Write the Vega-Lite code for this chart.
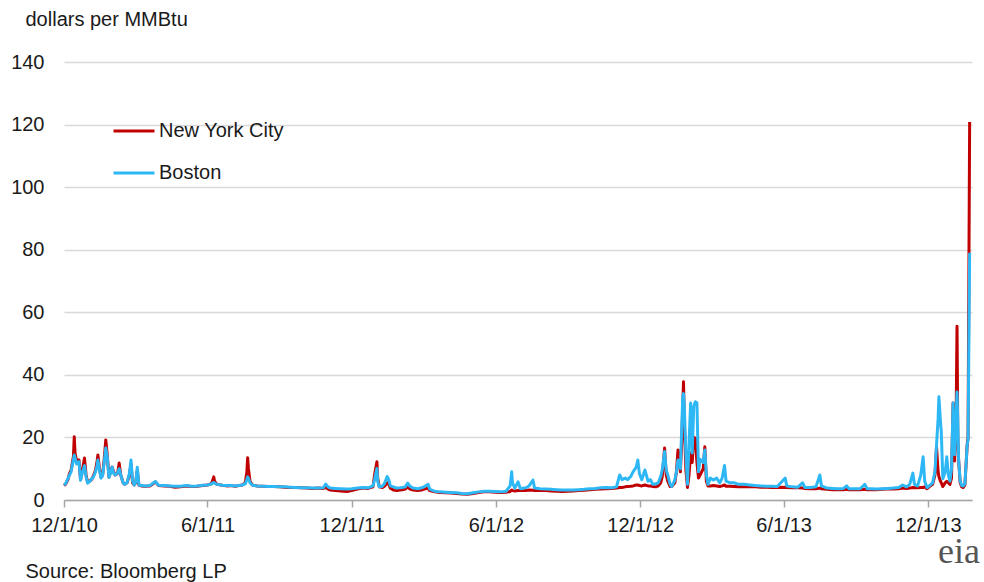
{
  "$schema": "https://vega.github.io/schema/vega-lite/v6.json",
  "width": 908,
  "height": 438,
  "autosize": {"type": "none"},
  "padding": {"left": 64, "top": 62, "right": 12, "bottom": 82},
  "background": "white",
  "config": {"view": {"stroke": null}, "font": "Liberation Sans"},
  "title": {"text": "eia", "orient": "bottom", "anchor": "end", "frame": "group", "font": "Liberation Serif", "fontSize": 36, "fontWeight": "normal", "color": "#555555", "baseline": "alphabetic", "offset": 0, "dx": 8, "dy": -18},
  "data": {"values": [
    {"date":"2010-12-01","New York City":4.6,"Boston":4.8},
    {"date":"2010-12-03","New York City":5.0,"Boston":5.2},
    {"date":"2010-12-06","New York City":6.5,"Boston":6.8},
    {"date":"2010-12-08","New York City":8.5,"Boston":8.0},
    {"date":"2010-12-10","New York City":9.5,"Boston":9.0},
    {"date":"2010-12-13","New York City":14.0,"Boston":13.0},
    {"date":"2010-12-14","New York City":20.2,"Boston":14.4},
    {"date":"2010-12-15","New York City":15.0,"Boston":13.5},
    {"date":"2010-12-17","New York City":12.5,"Boston":11.5},
    {"date":"2010-12-20","New York City":12.8,"Boston":12.3},
    {"date":"2010-12-22","New York City":6.5,"Boston":6.3},
    {"date":"2010-12-24","New York City":9.0,"Boston":8.5},
    {"date":"2010-12-27","New York City":13.4,"Boston":11.0},
    {"date":"2010-12-29","New York City":8.0,"Boston":7.5},
    {"date":"2010-12-31","New York City":5.6,"Boston":5.4},
    {"date":"2011-01-03","New York City":6.2,"Boston":6.0},
    {"date":"2011-01-05","New York City":6.5,"Boston":6.8},
    {"date":"2011-01-07","New York City":7.5,"Boston":7.2},
    {"date":"2011-01-10","New York City":9.5,"Boston":9.0},
    {"date":"2011-01-12","New York City":12.5,"Boston":11.0},
    {"date":"2011-01-13","New York City":14.4,"Boston":12.8},
    {"date":"2011-01-15","New York City":10.0,"Boston":9.5},
    {"date":"2011-01-17","New York City":7.3,"Boston":7.0},
    {"date":"2011-01-19","New York City":8.0,"Boston":7.8},
    {"date":"2011-01-21","New York City":13.0,"Boston":12.0},
    {"date":"2011-01-23","New York City":19.2,"Boston":16.6},
    {"date":"2011-01-25","New York City":14.0,"Boston":13.5},
    {"date":"2011-01-27","New York City":7.3,"Boston":7.2},
    {"date":"2011-01-29","New York City":9.0,"Boston":8.5},
    {"date":"2011-01-31","New York City":10.5,"Boston":10.5},
    {"date":"2011-02-02","New York City":9.0,"Boston":8.5},
    {"date":"2011-02-04","New York City":8.0,"Boston":8.0},
    {"date":"2011-02-07","New York City":8.5,"Boston":8.6},
    {"date":"2011-02-09","New York City":11.8,"Boston":10.0},
    {"date":"2011-02-11","New York City":8.0,"Boston":8.0},
    {"date":"2011-02-14","New York City":5.5,"Boston":5.5},
    {"date":"2011-02-16","New York City":5.0,"Boston":5.0},
    {"date":"2011-02-19","New York City":5.5,"Boston":5.5},
    {"date":"2011-02-22","New York City":8.0,"Boston":8.5},
    {"date":"2011-02-24","New York City":11.5,"Boston":12.8},
    {"date":"2011-02-26","New York City":5.5,"Boston":6.0},
    {"date":"2011-02-28","New York City":4.8,"Boston":4.8},
    {"date":"2011-03-02","New York City":5.5,"Boston":5.8},
    {"date":"2011-03-04","New York City":9.5,"Boston":10.5},
    {"date":"2011-03-06","New York City":4.8,"Boston":4.8},
    {"date":"2011-03-09","New York City":4.5,"Boston":4.6},
    {"date":"2011-03-14","New York City":4.4,"Boston":4.5},
    {"date":"2011-03-20","New York City":4.5,"Boston":4.6},
    {"date":"2011-03-24","New York City":5.2,"Boston":5.4},
    {"date":"2011-03-27","New York City":5.8,"Boston":5.9},
    {"date":"2011-03-31","New York City":4.6,"Boston":4.7},
    {"date":"2011-04-07","New York City":4.5,"Boston":4.6},
    {"date":"2011-04-14","New York City":4.4,"Boston":4.5},
    {"date":"2011-04-21","New York City":4.1,"Boston":4.4},
    {"date":"2011-04-28","New York City":4.2,"Boston":4.4},
    {"date":"2011-05-05","New York City":4.5,"Boston":4.6},
    {"date":"2011-05-12","New York City":4.3,"Boston":4.4},
    {"date":"2011-05-19","New York City":4.4,"Boston":4.5},
    {"date":"2011-05-26","New York City":4.6,"Boston":4.7},
    {"date":"2011-06-01","New York City":4.8,"Boston":4.8},
    {"date":"2011-06-06","New York City":5.2,"Boston":5.1},
    {"date":"2011-06-08","New York City":6.5,"Boston":5.5},
    {"date":"2011-06-09","New York City":7.4,"Boston":5.6},
    {"date":"2011-06-10","New York City":6.0,"Boston":5.4},
    {"date":"2011-06-13","New York City":5.0,"Boston":5.0},
    {"date":"2011-06-20","New York City":4.7,"Boston":4.7},
    {"date":"2011-06-27","New York City":4.5,"Boston":4.6},
    {"date":"2011-07-01","New York City":4.6,"Boston":4.6},
    {"date":"2011-07-06","New York City":4.4,"Boston":4.5},
    {"date":"2011-07-11","New York City":4.6,"Boston":4.6},
    {"date":"2011-07-15","New York City":4.8,"Boston":4.8},
    {"date":"2011-07-19","New York City":5.5,"Boston":5.2},
    {"date":"2011-07-21","New York City":9.0,"Boston":6.5},
    {"date":"2011-07-22","New York City":13.5,"Boston":7.4},
    {"date":"2011-07-23","New York City":10.0,"Boston":7.0},
    {"date":"2011-07-25","New York City":6.0,"Boston":5.5},
    {"date":"2011-07-28","New York City":4.8,"Boston":4.7},
    {"date":"2011-08-03","New York City":4.5,"Boston":4.5},
    {"date":"2011-08-10","New York City":4.4,"Boston":4.4},
    {"date":"2011-08-17","New York City":4.3,"Boston":4.3},
    {"date":"2011-08-24","New York City":4.3,"Boston":4.3},
    {"date":"2011-08-31","New York City":4.2,"Boston":4.2},
    {"date":"2011-09-07","New York City":4.1,"Boston":4.2},
    {"date":"2011-09-14","New York City":4.0,"Boston":4.1},
    {"date":"2011-09-21","New York City":4.0,"Boston":4.0},
    {"date":"2011-09-28","New York City":3.9,"Boston":3.9},
    {"date":"2011-10-05","New York City":3.8,"Boston":3.9},
    {"date":"2011-10-12","New York City":3.7,"Boston":3.8},
    {"date":"2011-10-19","New York City":3.8,"Boston":3.8},
    {"date":"2011-10-26","New York City":3.7,"Boston":3.9},
    {"date":"2011-10-29","New York City":4.0,"Boston":5.1},
    {"date":"2011-11-01","New York City":3.5,"Boston":4.2},
    {"date":"2011-11-04","New York City":3.2,"Boston":3.8},
    {"date":"2011-11-10","New York City":3.0,"Boston":3.7},
    {"date":"2011-11-17","New York City":2.9,"Boston":3.6},
    {"date":"2011-11-25","New York City":2.7,"Boston":3.5},
    {"date":"2011-12-01","New York City":3.0,"Boston":3.6},
    {"date":"2011-12-08","New York City":3.5,"Boston":3.8},
    {"date":"2011-12-15","New York City":3.8,"Boston":4.0},
    {"date":"2011-12-22","New York City":3.7,"Boston":3.9},
    {"date":"2011-12-28","New York City":4.2,"Boston":4.5},
    {"date":"2011-12-30","New York City":8.0,"Boston":6.5},
    {"date":"2012-01-02","New York City":12.2,"Boston":10.1},
    {"date":"2012-01-03","New York City":7.0,"Boston":6.0},
    {"date":"2012-01-05","New York City":4.2,"Boston":4.2},
    {"date":"2012-01-09","New York City":4.0,"Boston":4.4},
    {"date":"2012-01-12","New York City":4.5,"Boston":5.5},
    {"date":"2012-01-15","New York City":5.5,"Boston":7.5},
    {"date":"2012-01-17","New York City":5.0,"Boston":6.5},
    {"date":"2012-01-19","New York City":3.8,"Boston":4.5},
    {"date":"2012-01-23","New York City":3.2,"Boston":4.2},
    {"date":"2012-01-27","New York City":3.0,"Boston":3.8},
    {"date":"2012-01-31","New York City":3.2,"Boston":3.9},
    {"date":"2012-02-03","New York City":3.3,"Boston":4.0},
    {"date":"2012-02-07","New York City":3.5,"Boston":4.2},
    {"date":"2012-02-10","New York City":4.2,"Boston":5.4},
    {"date":"2012-02-13","New York City":3.5,"Boston":4.4},
    {"date":"2012-02-17","New York City":3.2,"Boston":3.8},
    {"date":"2012-02-23","New York City":3.0,"Boston":3.6},
    {"date":"2012-02-29","New York City":3.3,"Boston":4.0},
    {"date":"2012-03-07","New York City":3.8,"Boston":5.0},
    {"date":"2012-03-09","New York City":3.0,"Boston":3.5},
    {"date":"2012-03-15","New York City":2.6,"Boston":2.8},
    {"date":"2012-03-22","New York City":2.4,"Boston":2.6},
    {"date":"2012-03-29","New York City":2.3,"Boston":2.5},
    {"date":"2012-04-05","New York City":2.2,"Boston":2.4},
    {"date":"2012-04-12","New York City":2.1,"Boston":2.3},
    {"date":"2012-04-19","New York City":1.9,"Boston":2.1},
    {"date":"2012-04-26","New York City":1.8,"Boston":2.0},
    {"date":"2012-05-03","New York City":2.1,"Boston":2.3},
    {"date":"2012-05-10","New York City":2.4,"Boston":2.6},
    {"date":"2012-05-17","New York City":2.6,"Boston":2.8},
    {"date":"2012-05-24","New York City":2.6,"Boston":2.8},
    {"date":"2012-05-31","New York City":2.5,"Boston":2.7},
    {"date":"2012-06-07","New York City":2.4,"Boston":2.6},
    {"date":"2012-06-14","New York City":2.5,"Boston":2.8},
    {"date":"2012-06-19","New York City":2.7,"Boston":4.5},
    {"date":"2012-06-21","New York City":3.2,"Boston":9.0},
    {"date":"2012-06-22","New York City":3.0,"Boston":5.5},
    {"date":"2012-06-25","New York City":2.9,"Boston":3.8},
    {"date":"2012-06-29","New York City":3.0,"Boston":5.8},
    {"date":"2012-07-02","New York City":3.0,"Boston":3.6},
    {"date":"2012-07-09","New York City":3.0,"Boston":3.9},
    {"date":"2012-07-13","New York City":3.2,"Boston":4.5},
    {"date":"2012-07-18","New York City":3.1,"Boston":6.4},
    {"date":"2012-07-20","New York City":3.0,"Boston":3.8},
    {"date":"2012-07-27","New York City":3.0,"Boston":3.6},
    {"date":"2012-08-03","New York City":3.0,"Boston":3.5},
    {"date":"2012-08-10","New York City":2.9,"Boston":3.4},
    {"date":"2012-08-17","New York City":2.8,"Boston":3.3},
    {"date":"2012-08-24","New York City":2.7,"Boston":3.2},
    {"date":"2012-08-31","New York City":2.8,"Boston":3.2},
    {"date":"2012-09-07","New York City":2.9,"Boston":3.2},
    {"date":"2012-09-14","New York City":3.0,"Boston":3.3},
    {"date":"2012-09-21","New York City":3.1,"Boston":3.4},
    {"date":"2012-09-28","New York City":3.3,"Boston":3.6},
    {"date":"2012-10-05","New York City":3.4,"Boston":3.7},
    {"date":"2012-10-12","New York City":3.5,"Boston":3.9},
    {"date":"2012-10-19","New York City":3.6,"Boston":4.0},
    {"date":"2012-10-26","New York City":3.7,"Boston":3.9},
    {"date":"2012-11-01","New York City":3.8,"Boston":4.2},
    {"date":"2012-11-05","New York City":4.0,"Boston":8.0},
    {"date":"2012-11-08","New York City":4.0,"Boston":6.5},
    {"date":"2012-11-12","New York City":4.2,"Boston":7.0},
    {"date":"2012-11-15","New York City":4.3,"Boston":6.5},
    {"date":"2012-11-19","New York City":4.4,"Boston":7.5},
    {"date":"2012-11-22","New York City":4.5,"Boston":9.0},
    {"date":"2012-11-26","New York City":4.8,"Boston":10.5},
    {"date":"2012-11-28","New York City":4.8,"Boston":12.8},
    {"date":"2012-11-30","New York City":4.6,"Boston":8.5},
    {"date":"2012-12-03","New York City":4.5,"Boston":6.5},
    {"date":"2012-12-07","New York City":4.8,"Boston":9.6},
    {"date":"2012-12-11","New York City":4.5,"Boston":6.0},
    {"date":"2012-12-14","New York City":4.5,"Boston":6.5},
    {"date":"2012-12-17","New York City":4.3,"Boston":5.0},
    {"date":"2012-12-21","New York City":4.2,"Boston":5.2},
    {"date":"2012-12-24","New York City":4.5,"Boston":5.5},
    {"date":"2012-12-27","New York City":5.5,"Boston":7.5},
    {"date":"2012-12-29","New York City":7.5,"Boston":9.6},
    {"date":"2013-01-01","New York City":16.6,"Boston":15.5},
    {"date":"2013-01-03","New York City":8.0,"Boston":9.6},
    {"date":"2013-01-05","New York City":6.0,"Boston":8.0},
    {"date":"2013-01-08","New York City":4.3,"Boston":5.0},
    {"date":"2013-01-10","New York City":4.3,"Boston":4.3},
    {"date":"2013-01-14","New York City":5.5,"Boston":6.4},
    {"date":"2013-01-16","New York City":9.0,"Boston":9.0},
    {"date":"2013-01-18","New York City":16.0,"Boston":12.8},
    {"date":"2013-01-21","New York City":9.0,"Boston":10.0},
    {"date":"2013-01-23","New York City":20.0,"Boston":25.0},
    {"date":"2013-01-24","New York City":30.0,"Boston":33.0},
    {"date":"2013-01-25","New York City":37.8,"Boston":34.0},
    {"date":"2013-01-26","New York City":25.0,"Boston":30.0},
    {"date":"2013-01-28","New York City":9.6,"Boston":14.4},
    {"date":"2013-01-30","New York City":4.0,"Boston":5.0},
    {"date":"2013-02-01","New York City":8.0,"Boston":18.0},
    {"date":"2013-02-03","New York City":15.0,"Boston":31.0},
    {"date":"2013-02-05","New York City":12.0,"Boston":15.0},
    {"date":"2013-02-07","New York City":20.0,"Boston":30.0},
    {"date":"2013-02-09","New York City":19.8,"Boston":31.4},
    {"date":"2013-02-11","New York City":12.0,"Boston":31.0},
    {"date":"2013-02-13","New York City":7.0,"Boston":9.0},
    {"date":"2013-02-15","New York City":8.0,"Boston":13.0},
    {"date":"2013-02-19","New York City":10.0,"Boston":12.0},
    {"date":"2013-02-21","New York City":17.0,"Boston":16.0},
    {"date":"2013-02-23","New York City":6.0,"Boston":8.0},
    {"date":"2013-02-25","New York City":4.5,"Boston":5.0},
    {"date":"2013-02-28","New York City":4.5,"Boston":7.0},
    {"date":"2013-03-04","New York City":4.6,"Boston":6.4},
    {"date":"2013-03-08","New York City":4.5,"Boston":7.0},
    {"date":"2013-03-12","New York City":4.3,"Boston":5.5},
    {"date":"2013-03-15","New York City":4.5,"Boston":7.0},
    {"date":"2013-03-18","New York City":4.8,"Boston":11.0},
    {"date":"2013-03-20","New York City":4.4,"Boston":6.0},
    {"date":"2013-03-25","New York City":4.4,"Boston":5.5},
    {"date":"2013-03-30","New York City":4.3,"Boston":5.5},
    {"date":"2013-04-05","New York City":4.2,"Boston":5.0},
    {"date":"2013-04-12","New York City":4.2,"Boston":5.0},
    {"date":"2013-04-19","New York City":4.2,"Boston":4.8},
    {"date":"2013-04-26","New York City":4.2,"Boston":4.6},
    {"date":"2013-05-03","New York City":4.1,"Boston":4.5},
    {"date":"2013-05-10","New York City":4.1,"Boston":4.4},
    {"date":"2013-05-17","New York City":4.0,"Boston":4.4},
    {"date":"2013-05-24","New York City":4.0,"Boston":4.3},
    {"date":"2013-06-03","New York City":4.1,"Boston":7.0},
    {"date":"2013-06-05","New York City":4.0,"Boston":4.5},
    {"date":"2013-06-12","New York City":3.9,"Boston":4.2},
    {"date":"2013-06-19","New York City":3.9,"Boston":4.1},
    {"date":"2013-06-25","New York City":3.8,"Boston":5.5},
    {"date":"2013-06-28","New York City":3.7,"Boston":4.0},
    {"date":"2013-07-05","New York City":3.6,"Boston":4.0},
    {"date":"2013-07-12","New York City":3.6,"Boston":4.2},
    {"date":"2013-07-17","New York City":3.8,"Boston":8.0},
    {"date":"2013-07-19","New York City":3.6,"Boston":4.5},
    {"date":"2013-07-26","New York City":3.4,"Boston":3.8},
    {"date":"2013-08-02","New York City":3.3,"Boston":3.7},
    {"date":"2013-08-09","New York City":3.3,"Boston":3.6},
    {"date":"2013-08-16","New York City":3.3,"Boston":3.7},
    {"date":"2013-08-20","New York City":3.4,"Boston":4.5},
    {"date":"2013-08-23","New York City":3.3,"Boston":3.6},
    {"date":"2013-08-30","New York City":3.3,"Boston":3.6},
    {"date":"2013-09-06","New York City":3.3,"Boston":3.6},
    {"date":"2013-09-12","New York City":3.4,"Boston":5.0},
    {"date":"2013-09-15","New York City":3.3,"Boston":3.6},
    {"date":"2013-09-20","New York City":3.3,"Boston":3.6},
    {"date":"2013-09-27","New York City":3.3,"Boston":3.5},
    {"date":"2013-10-04","New York City":3.4,"Boston":3.6},
    {"date":"2013-10-11","New York City":3.5,"Boston":3.7},
    {"date":"2013-10-18","New York City":3.5,"Boston":3.8},
    {"date":"2013-10-25","New York City":3.6,"Boston":4.0},
    {"date":"2013-10-30","New York City":3.8,"Boston":4.8},
    {"date":"2013-11-04","New York City":3.7,"Boston":4.2},
    {"date":"2013-11-08","New York City":3.8,"Boston":5.0},
    {"date":"2013-11-12","New York City":4.0,"Boston":8.6},
    {"date":"2013-11-14","New York City":3.9,"Boston":5.0},
    {"date":"2013-11-18","New York City":3.9,"Boston":4.5},
    {"date":"2013-11-22","New York City":4.0,"Boston":8.0},
    {"date":"2013-11-25","New York City":4.0,"Boston":13.8},
    {"date":"2013-11-27","New York City":4.2,"Boston":6.0},
    {"date":"2013-11-30","New York City":3.6,"Boston":4.0},
    {"date":"2013-12-03","New York City":4.3,"Boston":4.6},
    {"date":"2013-12-07","New York City":5.0,"Boston":5.5},
    {"date":"2013-12-10","New York City":8.0,"Boston":9.0},
    {"date":"2013-12-12","New York City":17.0,"Boston":17.6},
    {"date":"2013-12-14","New York City":9.0,"Boston":26.0},
    {"date":"2013-12-15","New York City":7.5,"Boston":33.0},
    {"date":"2013-12-17","New York City":6.0,"Boston":25.0},
    {"date":"2013-12-18","New York City":5.5,"Boston":22.0},
    {"date":"2013-12-20","New York City":4.3,"Boston":6.8},
    {"date":"2013-12-23","New York City":5.5,"Boston":9.0},
    {"date":"2013-12-25","New York City":6.0,"Boston":13.8},
    {"date":"2013-12-27","New York City":5.5,"Boston":8.0},
    {"date":"2013-12-29","New York City":5.0,"Boston":6.0},
    {"date":"2013-12-31","New York City":7.0,"Boston":10.0},
    {"date":"2014-01-02","New York City":31.0,"Boston":31.0},
    {"date":"2014-01-03","New York City":15.0,"Boston":20.0},
    {"date":"2014-01-04","New York City":12.5,"Boston":14.5},
    {"date":"2014-01-06","New York City":30.0,"Boston":28.0},
    {"date":"2014-01-07","New York City":55.5,"Boston":34.5},
    {"date":"2014-01-08","New York City":20.0,"Boston":25.0},
    {"date":"2014-01-09","New York City":12.8,"Boston":12.8},
    {"date":"2014-01-11","New York City":5.5,"Boston":6.0},
    {"date":"2014-01-13","New York City":4.2,"Boston":4.6},
    {"date":"2014-01-15","New York City":4.0,"Boston":4.5},
    {"date":"2014-01-17","New York City":4.8,"Boston":5.2},
    {"date":"2014-01-20","New York City":18.0,"Boston":18.0},
    {"date":"2014-01-21","New York City":20.0,"Boston":19.0},
    {"date":"2014-01-23","New York City":120.8,"Boston":79.0}
  ]},
  "transform": [{"fold": ["New York City", "Boston"], "as": ["city", "price"]}],
  "mark": {"type": "line", "strokeWidth": 3, "strokeJoin": "round"},
  "encoding": {
    "x": {
      "field": "date", "type": "temporal",
      "scale": {"type": "utc", "domain": [{"year": 2010, "month": 12, "date": 1, "utc": true}, {"year": 2014, "month": 1, "date": 26, "utc": true}]},
      "axis": {
        "values": [
          {"year": 2010, "month": 12, "date": 1, "utc": true},
          {"year": 2011, "month": 6, "date": 1, "utc": true},
          {"year": 2011, "month": 12, "date": 1, "utc": true},
          {"year": 2012, "month": 6, "date": 1, "utc": true},
          {"year": 2012, "month": 12, "date": 1, "utc": true},
          {"year": 2013, "month": 6, "date": 1, "utc": true},
          {"year": 2013, "month": 12, "date": 1, "utc": true}
        ],
        "format": "%-m/%-d/%y",
        "grid": false,
        "domainColor": "#a6a6a6", "domainWidth": 1.5,
        "tickColor": "#a6a6a6", "tickWidth": 1.5, "tickSize": 7,
        "labelFontSize": 20, "labelColor": "#1a1a1a", "labelPadding": 8, "labelFlush": false, "labelOverlap": false,
        "title": "Source: Bloomberg LP",
        "titleFontSize": 20, "titleFontWeight": "normal", "titleColor": "#1a1a1a",
        "titleX": -39, "titleY": 77, "titleAlign": "left", "titleBaseline": "alphabetic", "titleAnchor": "start"
      }
    },
    "y": {
      "field": "price", "type": "quantitative",
      "scale": {"domain": [0, 140], "nice": false},
      "axis": {
        "values": [0, 20, 40, 60, 80, 100, 120, 140],
        "domain": false, "ticks": false, "tickSize": 0,
        "gridColor": "#d9d9d9", "gridWidth": 1.5,
        "labelFontSize": 20, "labelColor": "#1a1a1a", "labelPadding": 20,
        "title": "dollars per MMBtu",
        "titleFontSize": 20, "titleFontWeight": "normal", "titleColor": "#1a1a1a",
        "titleAngle": 0, "titleX": -39, "titleY": -37, "titleAlign": "left", "titleBaseline": "alphabetic", "titleAnchor": "start"
      }
    },
    "color": {
      "field": "city", "type": "nominal",
      "scale": {"domain": ["New York City", "Boston"], "range": ["#C00000", "#2DB8F5"]},
      "legend": {
        "title": null, "orient": "none", "legendX": 48, "legendY": 47,
        "direction": "vertical",
        "symbolType": "stroke", "symbolSize": 1681, "symbolStrokeWidth": 3,
        "labelFontSize": 20, "labelColor": "#1a1a1a", "labelOffset": 3,
        "rowPadding": 10, "padding": 0
      }
    }
  }
}
